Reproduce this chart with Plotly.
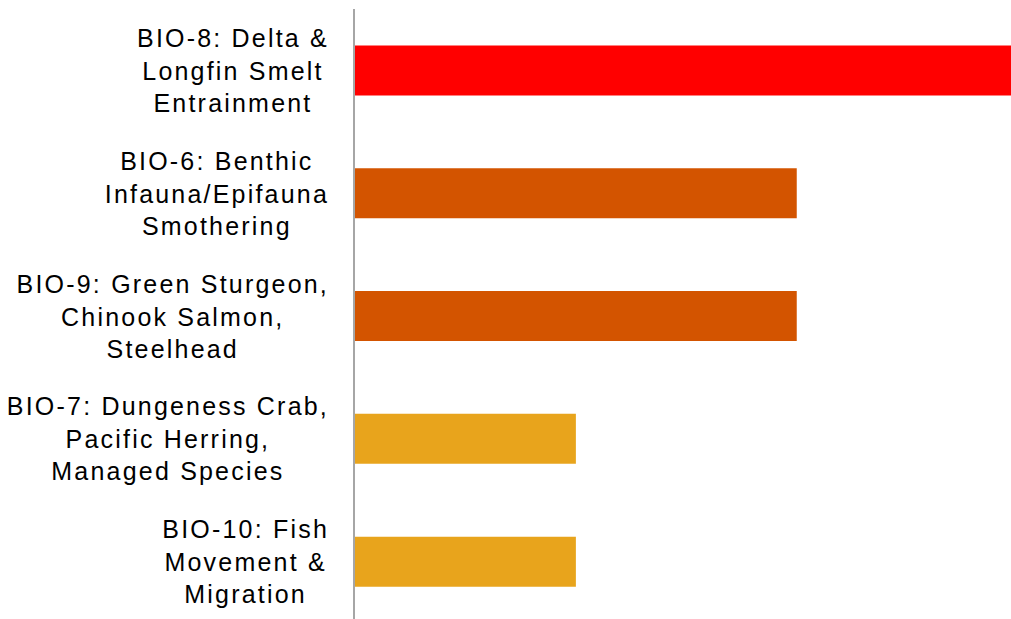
import plotly.graph_objects as go

labels = [
    "BIO-8: Delta &<br>Longfin Smelt<br>Entrainment",
    "BIO-6: Benthic<br>Infauna/Epifauna<br>Smothering",
    "BIO-9: Green Sturgeon,<br>Chinook Salmon,<br>Steelhead",
    "BIO-7: Dungeness Crab,<br>Pacific Herring,<br>Managed Species",
    "BIO-10: Fish<br>Movement &<br>Migration",
]
values = [3, 2, 2, 1, 1]
colors = ["#FF0000", "#D35400", "#D35400", "#E8A41C", "#E8A41C"]

fig = go.Figure(go.Bar(
    y=labels, x=values, orientation="h",
    marker=dict(color=colors, line=dict(width=0)),
    width=0.407, hoverinfo="skip",
))

for lab in labels:
    fig.add_annotation(
        x=0, xref="paper", y=lab, yref="y", text=lab,
        xanchor="right", yanchor="middle", align="center",
        xshift=-26, showarrow=False,
        font=dict(family="Liberation Sans, Arial, sans-serif", size=25, color="#000000"),
    )

fig.update_layout(
    width=1011, height=619,
    margin=dict(l=355, r=0, t=9, b=0),
    paper_bgcolor="white", plot_bgcolor="white",
    showlegend=False,
    xaxis=dict(range=[0, 2.97], visible=False, showgrid=False, zeroline=False),
    yaxis=dict(
        type="category", range=[4.467, -0.5],
        showticklabels=False, showgrid=False, zeroline=False,
        showline=True, linecolor="#A6A6A6", linewidth=2,
    ),
)

post = """
var gd = document.getElementById('{plot_id}');
var els = gd.querySelectorAll('text.annotation-text');
var gr = gd.getBoundingClientRect();
els.forEach(function(t){
  t.style.letterSpacing = '2.2px';
  var r = t.getBoundingClientRect();
  var dx = (gr.left + 329) - r.right;
  var tr = t.getAttribute('transform') || '';
  t.setAttribute('transform', tr + ' translate(' + dx + ',0)');
});
"""

fig.write_html("out.html", post_script=post)
